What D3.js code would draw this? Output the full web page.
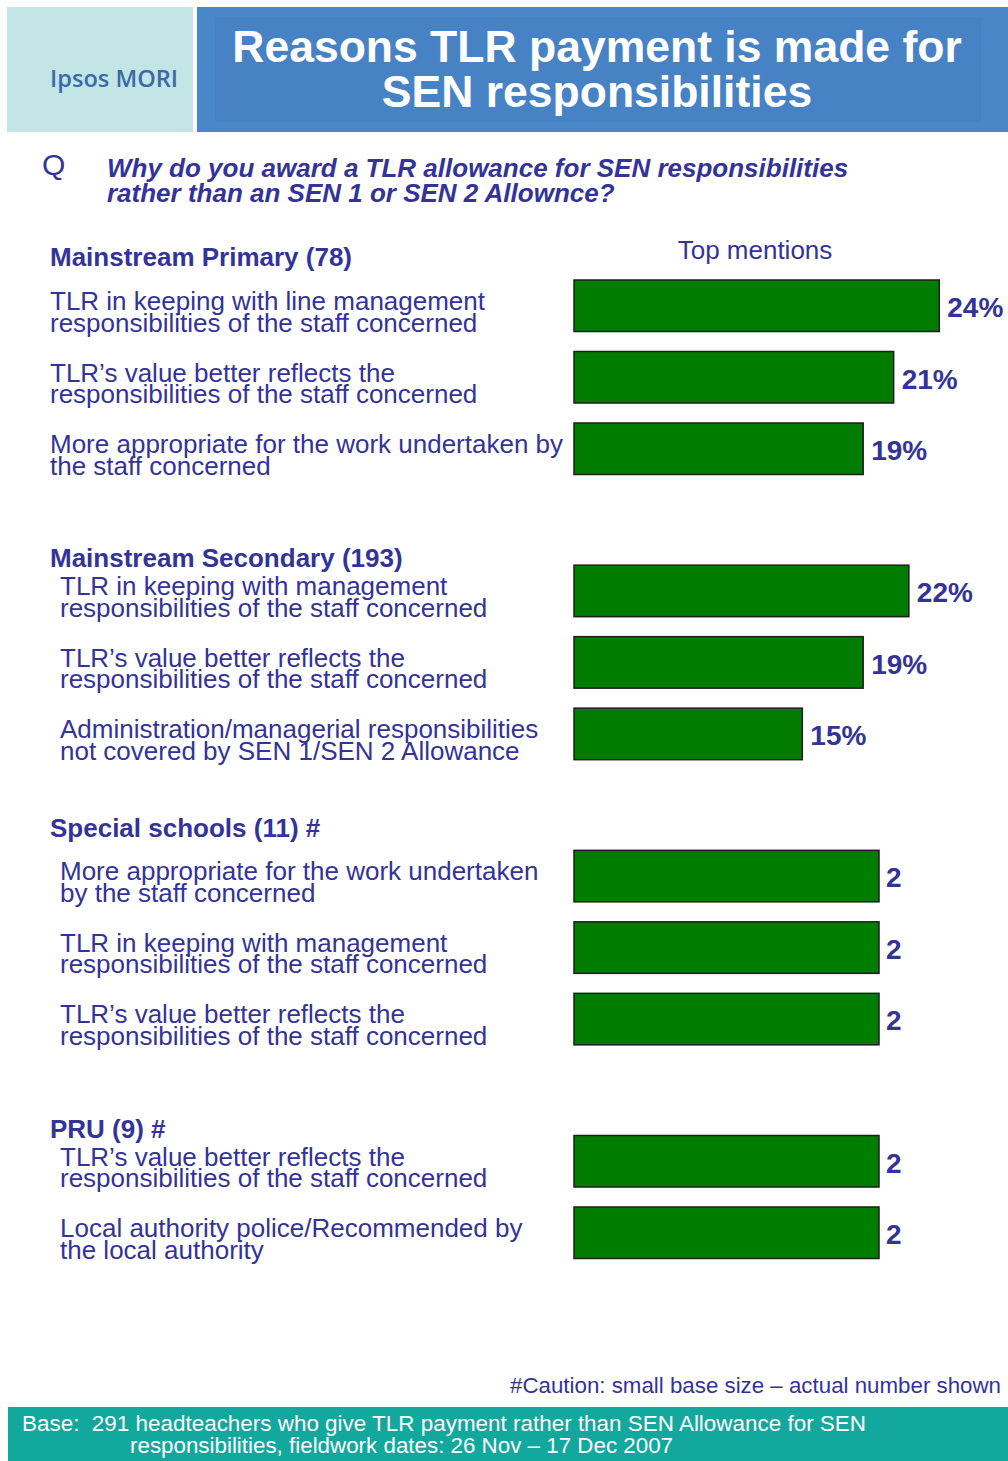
<!DOCTYPE html>
<html>
<head>
<meta charset="utf-8">
<script src="https://cdn.jsdelivr.net/npm/d3@7"></script>
<style>
  html, body { margin: 0; padding: 0; background: #fff; }
  svg { display: block; font-family: "Liberation Sans", Arial, sans-serif; }
</style>
</head>
<body>
<svg id="chart" width="1008" height="1461"></svg>
<script>

const groupNames = [
  "Mainstream Primary (78)",
  "Mainstream Secondary (193)",
  "Special schools (11) #",
  "PRU (9) #"
];

const primaryReasons = [
  ["TLR in keeping with line management", "responsibilities of the staff concerned"],
  ["TLR\u2019s value better reflects the", "responsibilities of the staff concerned"],
  ["More appropriate for the work undertaken by", "the staff concerned"]
];
const primaryValues = [24, 21, 19];

const secondaryReasons = [
  ["TLR in keeping with management", "responsibilities of the staff concerned"],
  ["TLR\u2019s value better reflects the", "responsibilities of the staff concerned"],
  ["Administration/managerial responsibilities", "not covered by SEN 1/SEN 2 Allowance"]
];
const secondaryValues = [22, 19, 15];

const specialReasons = [
  ["More appropriate for the work undertaken", "by the staff concerned"],
  ["TLR in keeping with management", "responsibilities of the staff concerned"],
  ["TLR\u2019s value better reflects the", "responsibilities of the staff concerned"]
];
const specialCounts = [2, 2, 2];

const pruReasons = [
  ["TLR\u2019s value better reflects the", "responsibilities of the staff concerned"],
  ["Local authority police/Recommended by", "the local authority"]
];
const pruCounts = [2, 2];

// percent groups show "%", small base groups show the actual number
const groupData = [
  { reasons: primaryReasons, values: primaryValues, kind: "pct" },
  { reasons: secondaryReasons, values: secondaryValues, kind: "pct" },
  { reasons: specialReasons, values: specialCounts, kind: "count" },
  { reasons: pruReasons, values: pruCounts, kind: "count" }
];

const navy = "#333399";
const barGreen = "#007c00";

const svg = d3.select("#chart");

// header
svg.append("rect")
  .attr("x", 7).attr("y", 7)
  .attr("width", 186).attr("height", 125)
  .attr("fill", "#c2e5e6");

svg.append("text")
  .attr("x", 50).attr("y", 87)
  .attr("font-family", "'Open Sans', 'DejaVu Sans', sans-serif")
  .attr("font-size", 23)
  .attr("font-weight", 600)
  .attr("textLength", 128)
  .attr("lengthAdjust", "spacingAndGlyphs")
  .attr("fill", "#3c6aa9")
  .text("Ipsos MORI");

svg.append("rect")
  .attr("x", 197).attr("y", 7)
  .attr("width", 811).attr("height", 125)
  .attr("fill", "#4a87c9");

svg.append("rect")
  .attr("x", 215).attr("y", 17)
  .attr("width", 766).attr("height", 105)
  .attr("fill", "#4682c4");

svg.append("text")
  .attr("x", 597).attr("y", 62)
  .attr("text-anchor", "middle")
  .attr("font-size", 44.5)
  .attr("font-weight", "bold")
  .attr("fill", "#fff")
  .text("Reasons TLR payment is made for");

svg.append("text")
  .attr("x", 597).attr("y", 107)
  .attr("text-anchor", "middle")
  .attr("font-size", 44.5)
  .attr("font-weight", "bold")
  .attr("fill", "#fff")
  .text("SEN responsibilities");

// question
svg.append("text")
  .attr("x", 42).attr("y", 175)
  .attr("font-size", 30)
  .attr("fill", navy)
  .text("Q");

svg.append("text")
  .attr("x", 107).attr("y", 177)
  .attr("font-size", 26)
  .attr("font-weight", "bold")
  .attr("font-style", "italic")
  .attr("fill", navy)
  .text("Why do you award a TLR allowance for SEN responsibilities");

svg.append("text")
  .attr("x", 107).attr("y", 202)
  .attr("font-size", 26)
  .attr("font-weight", "bold")
  .attr("font-style", "italic")
  .attr("fill", navy)
  .text("rather than an SEN 1 or SEN 2 Allownce?");

svg.append("text")
  .attr("x", 755).attr("y", 259)
  .attr("text-anchor", "middle")
  .attr("font-size", 26)
  .attr("fill", navy)
  .text("Top mentions");

// scales
const x =
  d3.scaleLinear()
    .domain([0, 24])
    .range([574, 939.3]);

const xCount =
  d3.scaleLinear()
    .domain([0, 2])
    .range([574, 879]);

const groupY =
  d3.scaleLinear()
    .domain([0, groupNames.length - 1])
    .range([280, 1135.5]);

const rowY =
  d3.scaleBand()
    .domain([0, 1, 2])
    .range([0, 194.5])
    .paddingInner(20 / 71.5);

const headingShift = [-14, 2, -13, 2];
const labelX = [50, 60, 60, 60];

groupData.forEach((grp, gi) => {

  const top = groupY(gi);
  const scale = grp.kind === "pct" ? x : xCount;

  const g = svg.append("g");

  g.append("text")
    .attr("x", 50)
    .attr("y", top + headingShift[gi])
    .attr("font-size", 26)
    .attr("font-weight", "bold")
    .attr("fill", navy)
    .text(groupNames[gi]);

  const rows =
    g.selectAll(".row")
      .data(grp.values.map((v, i) => ({ v, i, label: grp.reasons[i] })))
      .enter()
      .append("g")
      .attr("class", "row")
      .attr("transform", d => `translate(0,${top + rowY(d.i)})`);

  rows.append("rect")
    .attr("x", scale(0))
    .attr("y", 0)
    .attr("width", d => scale(d.v) - scale(0))
    .attr("height", rowY.bandwidth())
    .attr("fill", barGreen)
    .attr("stroke", "#1e1e1e")
    .attr("stroke-width", 1.5);

  rows.append("text")
    .attr("x", d => scale(d.v) + (grp.kind === "pct" ? 8 : 7))
    .attr("y", 37)
    .attr("font-size", 28)
    .attr("font-weight", "bold")
    .attr("fill", navy)
    .text(d => grp.kind === "pct" ? d.v + "%" : d.v);

  const lbl =
    rows.append("text")
      .attr("font-size", 26)
      .attr("fill", navy);

  lbl.selectAll("tspan")
    .data(d => d.label)
    .enter()
    .append("tspan")
    .attr("x", labelX[gi])
    .attr("y", (d, i) => 30 + i * 21.5)
    .text(d => d);
});

// footnotes
svg.append("text")
  .attr("x", 510).attr("y", 1393)
  .attr("font-family", "'Liberation Sans Narrow', 'Arial Narrow', sans-serif")
  .attr("font-size", 22)
  .attr("textLength", 491)
  .attr("lengthAdjust", "spacingAndGlyphs")
  .attr("fill", navy)
  .text("#Caution: small base size \u2013 actual number shown");

svg.append("rect")
  .attr("x", 8).attr("y", 1407)
  .attr("width", 1000).attr("height", 54)
  .attr("fill", "#12a89d");

svg.append("text")
  .attr("x", 22).attr("y", 1431)
  .attr("font-family", "'Liberation Sans Narrow', 'Arial Narrow', sans-serif")
  .attr("font-size", 22)
  .attr("textLength", 844)
  .attr("lengthAdjust", "spacingAndGlyphs")
  .attr("fill", "#fff")
  .attr("xml:space", "preserve")
  .text("Base:  291 headteachers who give TLR payment rather than SEN Allowance for SEN");

svg.append("text")
  .attr("x", 130).attr("y", 1453)
  .attr("font-family", "'Liberation Sans Narrow', 'Arial Narrow', sans-serif")
  .attr("font-size", 22)
  .attr("textLength", 543)
  .attr("lengthAdjust", "spacingAndGlyphs")
  .attr("fill", "#fff")
  .text("responsibilities, fieldwork dates: 26 Nov \u2013 17 Dec 2007");

</script>
</body>
</html>
